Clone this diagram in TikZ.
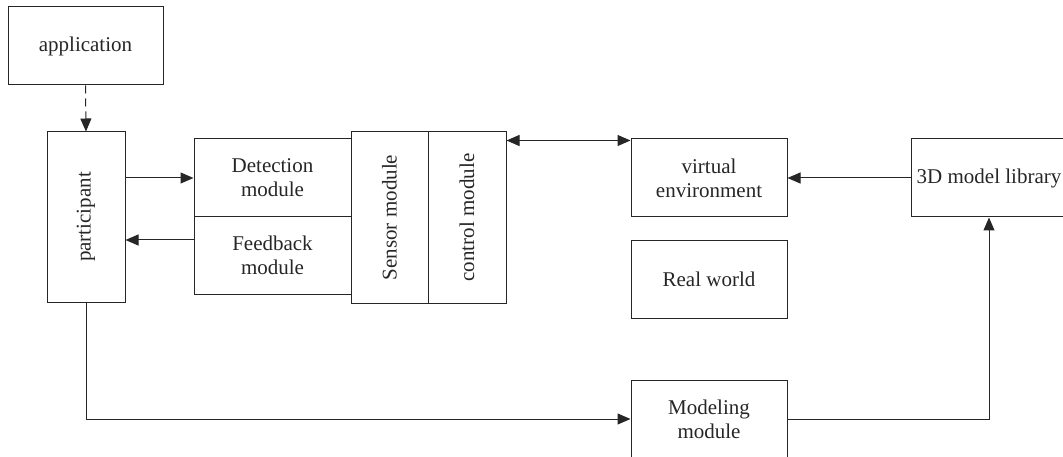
\documentclass[tikz,border=0pt]{standalone}
\usepackage{fontspec}
\setmainfont{Liberation Serif}
\usepackage{graphicx}
\usetikzlibrary{arrows.meta}
\definecolor{ink}{HTML}{262626}
\tikzset{
  box/.style={draw=ink, line width=1pt, rectangle, inner sep=0pt, align=center,
    text=ink, font=\fontsize{21}{24}\selectfont},
  conn/.style={draw=ink, line width=1pt},
  tip/.style={-{Triangle[length=13pt,width=11pt]}},
  dtip/.style={{Triangle[length=13pt,width=11pt]}-{Triangle[length=13pt,width=11pt]}},
}
\begin{document}
\begin{tikzpicture}[x=1pt,y=-1pt]
\useasboundingbox (0,0) rectangle (1063,457);

% boxes
\node[box, minimum width=155, minimum height=78] (app) at (85.5,46) {application};
\node[box, minimum width=78, minimum height=170] (part) at (86,217) {\rotatebox{90}{participant}};
\node[box, minimum width=157, minimum height=78] (det) at (272.5,178) {Detection\\module};
\node[box, minimum width=157, minimum height=77] (fb) at (272.5,255.5) {Feedback\\module};
\node[box, minimum width=77, minimum height=171] (sens) at (389.5,217.5) {\rotatebox{90}{Sensor module}};
\node[box, minimum width=78, minimum height=171] (ctrl) at (467,217.5) {\rotatebox{90}{control module}};
\node[box, minimum width=156, minimum height=78] (virt) at (709,178) {virtual\\environment};
\node[box, minimum width=156, minimum height=77] (real) at (709,279.5) {Real world};
\node[box, minimum width=156, minimum height=78] (model) at (709,419) {Modeling\\module};
\node[box, minimum width=156, minimum height=78] (lib) at (989,178) {3D model library};

% connectors
\draw[conn, tip, dash pattern=on 8pt off 5pt] (app.south) -- (part.north);
\draw[conn, tip] (part.east |- det.west) -- (det.west);
\coordinate (fbin) at ([yshift=15.5pt]fb.west);
\draw[conn, tip] (fbin) -- (part.east |- fbin);
\coordinate (vin) at ([yshift=-2pt]virt.north west);
\draw[conn, dtip] (ctrl.east |- vin) -- (vin);
\draw[conn, tip] (lib.west) -- (virt.east);
\draw[conn, tip] (part.south) -- (part.south |- model.west) -- (model.west);
\draw[conn, tip] (model.east) -- (lib.south |- model.east) -- (lib.south);
\end{tikzpicture}
\end{document}
